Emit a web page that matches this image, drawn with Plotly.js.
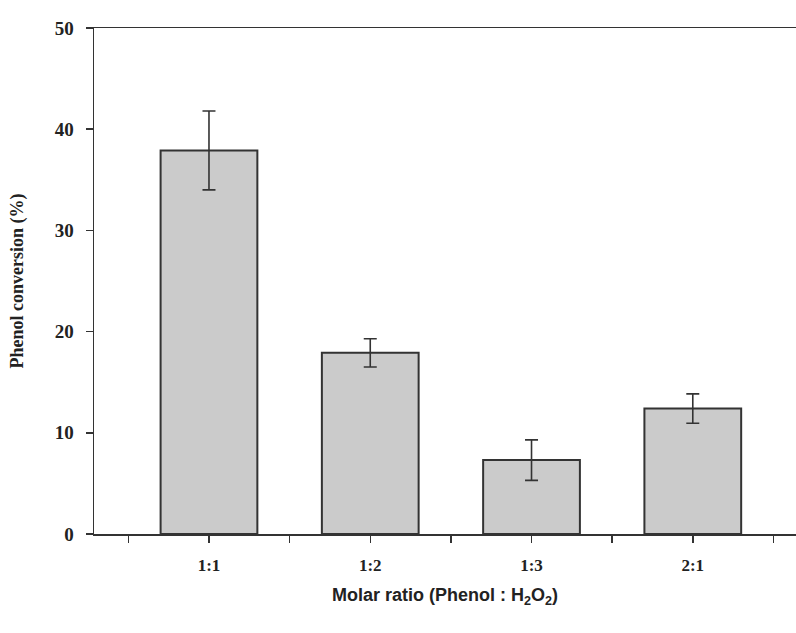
<!DOCTYPE html>
<html>
<head>
<meta charset="utf-8">
<script src="https://cdn.plot.ly/plotly-3.0.1.min.js"></script>
<style>html,body{margin:0;padding:0;background:#fff}#chart{width:796px;height:633px}</style>
</head>
<body>
<div id="chart"></div>
<script>
const categories = ['1:1', '1:2', '1:3', '2:1'];
const conversion = [37.9, 17.9, 7.3, 12.4];
const errorValues = [3.9, 1.4, 2.0, 1.45];
const yTicks = [0, 10, 20, 30, 40, 50];

const xPos = categories.map((_, i) => i + 1);
const tickVals = [], tickText = [];
for (let i = 0; i < categories.length; i++) {
  tickVals.push(i + 0.5); tickText.push(' ');
  tickVals.push(i + 1); tickText.push(categories[i]);
}
tickVals.push(categories.length + 0.5); tickText.push(' ');

const trace = {
  type: 'bar',
  x: xPos,
  y: conversion,
  width: 0.6,
  marker: { color: '#cbcbcb', line: { color: '#333333', width: 2 } },
  error_y: { type: 'data', array: errorValues, visible: true, color: '#333333', thickness: 1.6, width: 6.5 },
  hoverinfo: 'none'
};

const layout = {
  width: 796, height: 633,
  margin: { l: 94, r: 0, t: 28, b: 99 },
  paper_bgcolor: '#ffffff', plot_bgcolor: '#ffffff',
  showlegend: false,
  xaxis: {
    range: [0.287, 4.64],
    tickmode: 'array', tickvals: tickVals, ticktext: tickText,
    ticks: 'outside', ticklen: 7, tickwidth: 1.5, tickcolor: '#333',
    showline: true, linecolor: '#333', linewidth: 1.5, mirror: true,
    showgrid: false, zeroline: false,
    ticklabelstandoff: 8,
    tickfont: { family: 'Liberation Serif, Times New Roman, serif', size: 17, color: '#222', weight: 'bold' },
    title: { text: 'Molar ratio (Phenol : H<sub>2</sub>O<sub>2</sub>)', standoff: 14,
      font: { family: 'Liberation Sans, Arial, sans-serif', size: 18, color: '#222', weight: 'bold' } }
  },
  yaxis: {
    range: [0, 50],
    tickmode: 'array', tickvals: yTicks,
    ticks: 'outside', ticklen: 7, tickwidth: 1.5, tickcolor: '#333',
    showline: true, linecolor: '#333', linewidth: 1.5,
    showgrid: false, zeroline: false,
    ticklabelstandoff: 8,
    tickfont: { family: 'Liberation Serif, Times New Roman, serif', size: 19, color: '#222', weight: 'bold' },
    title: { text: 'Phenol conversion (%)', standoff: 26,
      font: { family: 'Liberation Serif, Times New Roman, serif', size: 18, color: '#222', weight: 'bold' } }
  }
};

Plotly.newPlot('chart', [trace], layout, { staticPlot: true, displayModeBar: false });
</script>
</body>
</html>
